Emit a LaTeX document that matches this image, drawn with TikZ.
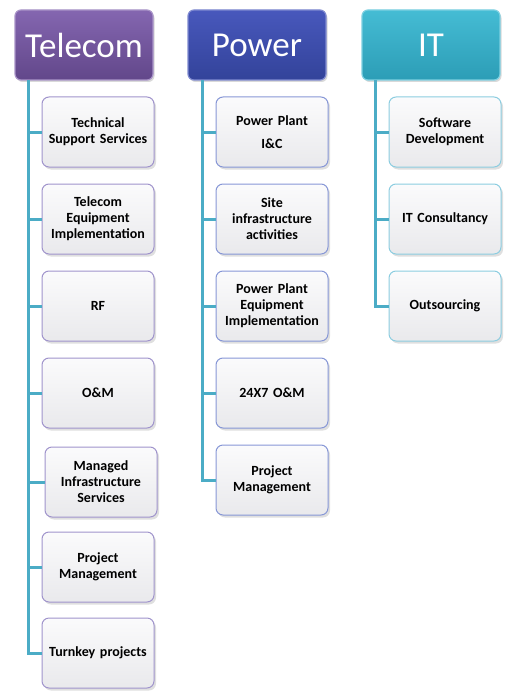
\documentclass[tikz,border=0pt]{standalone}
\usepackage{fontspec}
\setmainfont{Carlito}[WordSpace=0.45, BoldFeatures={WordSpace=0.45}]
\newfontfamily\hdrfont{Carlito}
\usetikzlibrary{shadows}
\definecolor{conncol}{HTML}{4BACC6}
\definecolor{telA}{HTML}{8466B0}
\definecolor{telB}{HTML}{62478A}
\definecolor{powA}{HTML}{4858BC}
\definecolor{powB}{HTML}{33439A}
\definecolor{itA}{HTML}{45BCD4}
\definecolor{itB}{HTML}{2C9DB6}
\definecolor{telE}{HTML}{A094CC}
\definecolor{powE}{HTML}{8797D6}
\definecolor{itE}{HTML}{8CCDE0}
\definecolor{boxT}{HTML}{FBFBFC}
\definecolor{boxB}{HTML}{E9E9EC}
\tikzset{
  hdr/.style 2 args={rounded corners=6pt, minimum width=138pt, minimum height=70pt,
    inner sep=0pt, text=white, font=\hdrfont\fontsize{35}{40}\selectfont,
    top color=#1, bottom color=#2, draw=#1!70!white, line width=1.2pt,
    drop shadow={shadow xshift=1.5pt, shadow yshift=-2pt, opacity=0.3}},
  child/.style={rounded corners=7pt, minimum width=112pt, minimum height=70pt,
    text width=110pt, align=center, inner sep=0pt,
    font=\bfseries\fontsize{14}{16}\selectfont, text=black,
    top color=boxT, bottom color=boxB, draw=#1, line width=1pt,
    drop shadow={shadow xshift=2pt, shadow yshift=-2.5pt, opacity=0.25}},
  conn/.style={draw=conncol, line width=3pt}
}
\begin{document}
\begin{tikzpicture}[x=1pt,y=-1pt]
\useasboundingbox (0,0) rectangle (524,698);
% headers
\node[hdr={telA}{telB}] (tel) at (84,45) {Telecom};
\node[hdr={powA}{powB}] (pow) at (257,45) {Power};
\node[hdr={itA}{itB}] (it) at (431,45) {IT};
% Telecom children
\node[child=telE] (t1) at (98,132) {Technical\\Support Services};
\node[child=telE] (t2) at (98,219) {Telecom\\Equipment\\Implementation};
\node[child=telE] (t3) at (98,306) {RF};
\node[child=telE] (t4) at (98,393) {O\&M};
\node[child=telE] (t5) at (101,482) {Managed\\Infrastructure\\Services};
\node[child=telE] (t6) at (98,567) {Project\\Management};
\node[child=telE] (t7) at (98,653) {Turnkey projects};
% Power children
\node[child=powE] (p1) at (272,132) {Power Plant\\[7pt]I\&C};
\node[child=powE] (p2) at (272,219) {Site\\infrastructure\\activities};
\node[child=powE] (p3) at (272,306) {Power Plant\\Equipment\\Implementation};
\node[child=powE] (p4) at (272,393) {24X7 O\&M};
\node[child=powE] (p5) at (272,480) {Project\\Management};
% IT children
\node[child=itE] (i1) at (445,132) {Software\\Development};
\node[child=itE] (i2) at (445,219) {IT Consultancy};
\node[child=itE] (i3) at (445,306) {Outsourcing};
% connectors
\coordinate (tl) at (28,80.5);
\coordinate (pl) at (202,80.5);
\coordinate (il) at (375,80.5);
\draw[conn] (tl) |- (t7.west);
\foreach \n in {t1,t2,t3,t4,t5,t6} \draw[conn] (tl |- \n.west) -- (\n.west);
\draw[conn] (pl) |- (p5.west);
\foreach \n in {p1,p2,p3,p4} \draw[conn] (pl |- \n.west) -- (\n.west);
\draw[conn] (il) |- (i3.west);
\foreach \n in {i1,i2} \draw[conn] (il |- \n.west) -- (\n.west);
\end{tikzpicture}
\end{document}
